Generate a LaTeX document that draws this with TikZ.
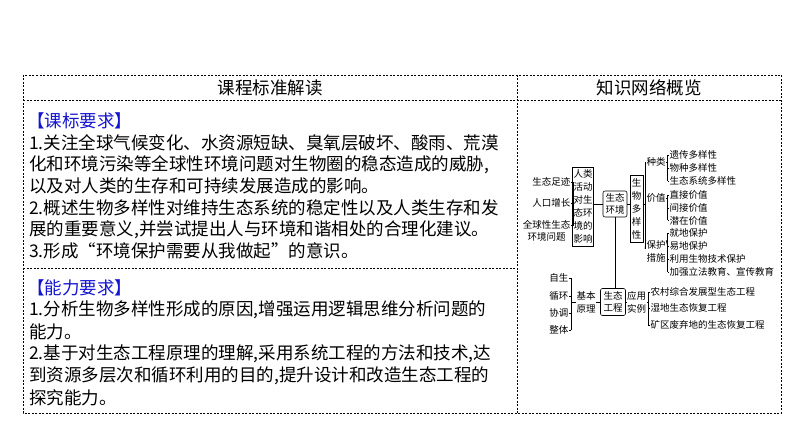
\documentclass[tikz,border=0pt]{standalone}
\usepackage{fontspec}
\setmainfont{Noto Sans CJK SC}
\definecolor{hdblue}{RGB}{20,20,210}
\begin{document}
\begin{tikzpicture}[x=1pt,y=-1pt,
  tbl/.style={dashed,line width=0.6pt,dash pattern=on 2pt off 1.5pt},
  body/.style={anchor=west,inner sep=0,font=\fontsize{17.5}{20}\selectfont},
  head/.style={inner sep=0,font=\fontsize{17.5}{20}\selectfont},
  sm/.style={inner sep=0.5pt,font=\fontsize{9.5}{12.5}\selectfont},
  ln/.style={line width=0.6pt}]
\useasboundingbox (0,0) rectangle (794,446);
% table
\draw[tbl] (23,75) rectangle (781,413);
\draw[tbl] (23,100) -- (781,100);
\draw[tbl] (517,75) -- (517,413);
\draw[tbl] (23,268) -- (517,268);
\node[head] (h1) at (270,87.5) {课程标准解读};
\node[head] (h2) at (649,87.5) {知识网络概览};
% left text
\node[body,text=hdblue] (k0) at (27,121) {【课标要求】};
\node[body] (k1) at (29,143) {1.关注全球气候变化、水资源短缺、臭氧层破坏、酸雨、荒漠};
\node[body] (k2) at (29,164.5) {化和环境污染等全球性环境问题对生物圈的稳态造成的威胁,};
\node[body] (k3) at (29,186) {以及对人类的生存和可持续发展造成的影响。};
\node[body] (k4) at (29,208) {2.概述生物多样性对维持生态系统的稳定性以及人类生存和发};
\node[body] (k5) at (29,229.5) {展的重要意义,并尝试提出人与环境和谐相处的合理化建议。};
\node[body] (k6) at (29,251) {3.形成“环境保护需要从我做起”的意识。};
\node[body,text=hdblue] (n0) at (27,288) {【能力要求】};
\node[body] (n1) at (29,310) {1.分析生物多样性形成的原因,增强运用逻辑思维分析问题的};
\node[body] (n2) at (29,332) {能力。};
\node[body] (n3) at (29,354) {2.基于对生态工程原理的理解,采用系统工程的方法和技术,达};
\node[body] (n4) at (29,376) {到资源多层次和循环利用的目的,提升设计和改造生态工程的};
\node[body] (n5) at (29,398) {探究能力。};
% diagram
\node[sm,anchor=east] (a1) at (571,182) {生态足迹};
\node[sm,anchor=east] (a2) at (571,203) {人口增长};
\node[sm,anchor=east,align=center] (a3) at (571,231) {全球性生态\\环境问题};
\draw[ln] (a1.east) -- (573,182) -- (573,225) -- (571,225);
\draw[ln] (a2.east) -- (573,203);
\node[sm,draw,ln,minimum width=16pt,minimum height=79pt,inner sep=1pt,align=center,font=\fontsize{9.5}{13}\selectfont] (b1) at (583,206.5) {人类\\活动\\对生\\态环\\境的\\影响};
\draw[ln] (573,206) -- (b1.west);
\node[sm,draw,ln,rounded corners=2pt,minimum width=24pt,minimum height=26pt,align=center] (b2) at (615,204) {生态\\环境};
\draw[ln] (b1.east|-b2) -- (b2.west);
\node[sm,draw,ln,minimum width=13pt,minimum height=67pt,align=center,font=\fontsize{9.5}{13}\selectfont] (b3) at (636.5,208.5) {生\\物\\多\\样\\性};
\draw[ln] (b2.east) -- (b3.west|-b2);
\coordinate (v1) at (645,162);
\draw[ln] (b3.east|-b2) -- (645,204);
\draw[ln] (v1) -- (645,249);
\node[sm] (c1) at (656,162) {种类};
\node[sm] (c2) at (656,198) {价值};
\node[sm,align=center] (c3) at (656,251.5) {保护\\措施};
\draw[ln] (v1) -- (c1.west);
\draw[ln] (645,198) -- (c2.west);
\draw[ln] (645,249) -- (c3.west|-c3.north);
% brackets
\foreach \nm/\yy/\t in {d1/155/遗传多样性,d2/168/物种多样性,d3/181/生态系统多样性,
  e1/195/直接价值,e2/208/间接价值,e3/220.5/潜在价值,
  f1/233/就地保护,f2/246/易地保护,f3/259/利用生物技术保护,f4/272/加强立法教育、宣传教育}
  {\node[sm,anchor=west] (\nm) at (669,\yy) {\t}; \draw[ln] (\nm.west) -- (667.5,\yy);}
\draw[ln] (667.5,155) -- (667.5,181); \draw[ln] (c1.east) -- (667.5,162);
\draw[ln] (667.5,195) -- (667.5,220.5); \draw[ln] (c2.east) -- (667.5,198);
\draw[ln] (667.5,233) -- (667.5,272); \draw[ln] (c3.east|-c3.north) -- (667.5,246);
% lower
\node[sm,draw,ln,rounded corners=2pt,minimum width=25pt,minimum height=27pt,align=center] (g1) at (613,302) {生态\\工程};
\draw[ln] (b2.south) -- (b2.south|-g1.north);
\node[sm,align=center] (g0) at (586,302.5) {基本\\原理};
\node[sm,align=center] (g2) at (636.5,302.5) {应用\\实例};
\draw[ln] (g0.east|-g1) -- (g1.west);
\draw[ln] (g1.east) -- (g2.west|-g1);
\foreach \nm/\yy/\t in {p1/278/自生,p2/296/循环,p3/313/协调,p4/330/整体}
  {\node[sm,anchor=east] (\nm) at (569,\yy) {\t}; \draw[ln] (\nm.east) -- (571,\yy);}
\draw[ln] (571,278) -- (571,330); \draw[ln] (571,302) -- (g0.west|-g1);
\foreach \nm/\yy/\t in {q1/292/农村综合发展型生态工程,q2/308/湿地生态恢复工程,q3/325/矿区废弃地的生态恢复工程}
  {\node[sm,anchor=west] (\nm) at (650,\yy) {\t}; \draw[ln] (\nm.west) -- (648,\yy);}
\draw[ln] (648,292) -- (648,325); \draw[ln] (g2.east|-g1) -- (648,302);
\end{tikzpicture}
\end{document}
